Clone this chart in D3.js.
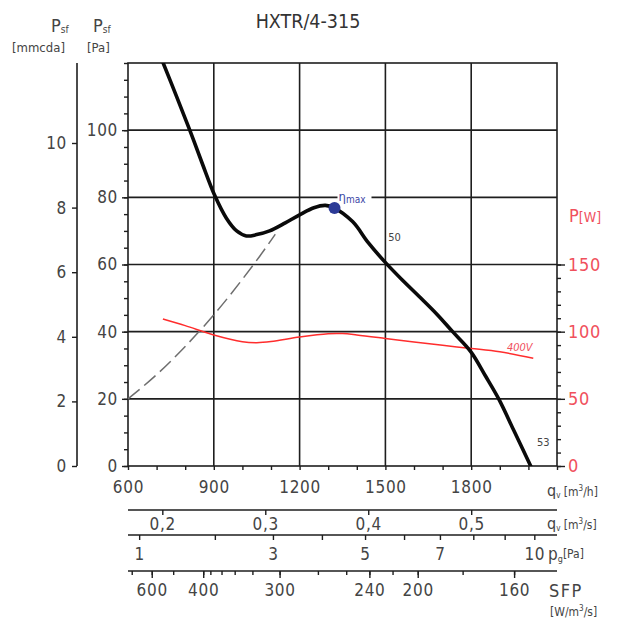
<!DOCTYPE html>
<html><head><meta charset="utf-8">
<script src="https://cdn.jsdelivr.net/npm/d3@7"></script>
<style>
body{margin:0;background:#fff;}
svg text{font-family:"DejaVu Sans Condensed","DejaVu Sans",sans-serif;font-stretch:condensed;fill:#444;}
</style></head><body><svg id="c" width="622" height="624"></svg>
<script>
// ---------- data ----------
const title = "HXTR/4-315";
const flowTicks = [600,700,800,900,1000,1100,1200,1300,1400,1500,1600,1700,1800,1900,2000,2100];
const flowLabels = [600,900,1200,1500,1800];
const flowGrid = [900,1200,1500,1800];
const paTicks = [0,5,10,15,20,25,30,35,40,45,50,55,60,65,70,75,80,85,90,95,100,105,110,115,120];
const paLabels = [0,20,40,60,80,100];
const paGrid = [20,40,60,80,100];
const mmTicks = [0,2,4,6,8,10];
const powerTicks = [0,10,20,30,40,50,60,70,80,90,100,110,120,130,140,150];
const powerLabels = [0,50,100,150];
const m3sTicks = [0.2,0.3,0.4,0.5];
const m3sLabels = ["0,2","0,3","0,4","0,5"];
const pgTicks = [1,2,3,4,5,6,7,8,9,10];
const pgLabels = [1,3,5,7,10];
const pgFlowAt1Pa = 639;          // m3/h at which dynamic pressure = 1 Pa
const sfpTicks = [700,600,500,400,380,360,340,320,300,280,260,240,220,200,180,160];
const sfpTickFlow = [613,683,758,863,888,927,973,1035,1130,1264,1363,1444,1525,1613,1770,1950];
const sfpLabels = [600,400,300,240,200,160];

// fan pressure curve (m3/h, Pa)
const pressureFlow  = [723,770,816,860,903,944,980,1014,1050,1095,1150,1200,1250,1290,1322,1386,1440,1502,1560,1619,1680,1735,1799,1850,1898,1950,2008];
const pressureValue = [120,110,100,90,80.6,73.8,70.0,68.5,68.9,70.0,72.4,74.8,76.9,77.6,76.8,72.7,66.5,60.4,55.3,50.4,45.2,40.0,34.0,26.8,19.7,10.4,0];
// system curve (dashed)
const systemFlow  = [600,700,800,900,1000,1060,1115];
const systemValue = [20,27.2,35.6,45,55.6,62.4,69];
// power curve 400V (m3/h, W)
const powerFlow  = [722,800,900,1000,1050,1100,1200,1300,1350,1400,1500,1600,1700,1800,1900,2017];
const powerValue = [109.4,104.5,97.5,92.5,91.8,92.6,96,98.5,98.6,97.6,95,92.3,89.8,87.5,85,80.2];
const etaFlow = 1322, etaPa = 76.8;
const label50 = {flow:1510, pa:67, text:"50"};
const label53 = {flow:2030, pa:6, text:"53"};

// ---------- layout ----------
const L = 128, R = 557, T = 63, B = 466;
const svg = d3.select("#c");
const x = d3.scaleLinear([600,2100],[L,R]);
const yPa = d3.scaleLinear([0,120],[B,T]);
const yMm = d3.scaleLinear([0,10],[B,143]);
const yW = d3.scaleLinear([0,300],[B,T]);
const xM3s = d3.scaleLinear([600/3600,2100/3600],[L,R]);
const pgMin = Math.pow(600/pgFlowAt1Pa,2), pgMax = Math.pow(2100/pgFlowAt1Pa,2);
const xPg = d3.scalePow().exponent(0.5).domain([pgMin,pgMax]).range([L,R]);
const xSfp = d3.scaleLinear().domain(sfpTicks).range(sfpTickFlow.map(f=>x(f)));

const ink = "#1e1e1e", red = "#ff2d2d", redText = "#f0505c", txt = "#444";
const fs = 17;

// grid
svg.append("g").selectAll("line").data(flowGrid).join("line")
  .attr("x1",d=>x(d)).attr("x2",d=>x(d)).attr("y1",T).attr("y2",B)
  .attr("stroke",ink).attr("stroke-width",1.6);
svg.append("g").selectAll("line").data(paGrid).join("line")
  .attr("x1",L).attr("x2",R).attr("y1",d=>yPa(d)).attr("y2",d=>yPa(d))
  .attr("stroke",ink).attr("stroke-width",1.6);
svg.append("rect").attr("x",L).attr("y",T).attr("width",R-L).attr("height",B-T)
  .attr("fill","none").attr("stroke",ink).attr("stroke-width",1.6);

function styleAxis(g, color){
  g.select(".domain").remove();
  g.selectAll("line").attr("stroke",color||ink).attr("stroke-width",1.4);
  g.selectAll("text").attr("font-size",fs).style("fill",color||txt).attr("letter-spacing",0.7);
}
const fmt = d3.format("d");

// Pa axis (left of plot)
svg.append("g").attr("transform",`translate(${L},0)`)
  .call(d3.axisLeft(yPa).tickValues(paTicks).tickSize(4).tickFormat(""))
  .call(g=>styleAxis(g));
svg.append("g").attr("transform",`translate(${L},0)`)
  .call(d3.axisLeft(yPa).tickValues(paLabels).tickSize(6).tickPadding(4).tickFormat(fmt))
  .call(g=>styleAxis(g));

// mmcda axis
svg.append("line").attr("x1",77).attr("x2",77).attr("y1",T).attr("y2",B).attr("stroke",ink).attr("stroke-width",1.6);
svg.append("g").attr("transform",`translate(77,0)`)
  .call(d3.axisLeft(yMm).tickValues(mmTicks).tickSize(5).tickPadding(5).tickFormat(fmt))
  .call(g=>styleAxis(g));

// power axis (right)
svg.append("g").attr("transform",`translate(${R},0)`)
  .call(d3.axisRight(yW).tickValues(powerTicks).tickSize(4).tickFormat(""))
  .call(g=>styleAxis(g));
svg.append("g").attr("transform",`translate(${R},0)`)
  .call(d3.axisRight(yW).tickValues(powerLabels).tickSize(8).tickPadding(3).tickFormat(fmt))
  .call(g=>{styleAxis(g); g.selectAll("text").style("fill",redText).attr("font-size",18);});

// flow axis m3/h
svg.append("g").attr("transform",`translate(0,${B})`)
  .call(d3.axisBottom(x).tickValues(flowTicks).tickSize(4).tickFormat(""))
  .call(g=>styleAxis(g));
svg.append("g").attr("transform",`translate(0,${B})`)
  .call(d3.axisBottom(x).tickValues(flowLabels).tickSize(0).tickPadding(15).tickFormat(fmt))
  .call(g=>styleAxis(g));

// m3/s axis
const yA2 = 510;
svg.append("line").attr("x1",L).attr("x2",R).attr("y1",yA2).attr("y2",yA2).attr("stroke",ink).attr("stroke-width",1.6);
svg.append("g").attr("transform",`translate(0,${yA2})`)
  .call(d3.axisBottom(xM3s).tickValues(m3sTicks).tickSize(5).tickPadding(3).tickFormat((d,i)=>m3sLabels[i]))
  .call(g=>styleAxis(g));

// pg axis
const yA3 = 535;
svg.append("line").attr("x1",L).attr("x2",R).attr("y1",yA3).attr("y2",yA3).attr("stroke",ink).attr("stroke-width",1.6);
svg.append("g").attr("transform",`translate(0,${yA3})`)
  .call(d3.axisBottom(xPg).tickValues(pgTicks).tickSize(5).tickFormat(""))
  .call(g=>styleAxis(g));
svg.append("g").attr("transform",`translate(0,${yA3})`)
  .call(d3.axisBottom(xPg).tickValues(pgLabels).tickSize(0).tickPadding(13).tickFormat(fmt))
  .call(g=>styleAxis(g));

// SFP axis
const yA4 = 571;
svg.append("line").attr("x1",L).attr("x2",R).attr("y1",yA4).attr("y2",yA4).attr("stroke",ink).attr("stroke-width",1.6);
svg.append("g").attr("transform",`translate(0,${yA4})`)
  .call(d3.axisBottom(xSfp).tickValues(sfpTicks).tickSize(4).tickFormat(""))
  .call(g=>styleAxis(g));
svg.append("g").attr("transform",`translate(0,${yA4})`)
  .call(d3.axisBottom(xSfp).tickValues(sfpLabels).tickSize(7).tickPadding(6).tickFormat(fmt))
  .call(g=>styleAxis(g));

// curves
svg.append("defs").append("clipPath").attr("id","clip").append("rect")
  .attr("x",L).attr("y",T).attr("width",R-L).attr("height",B-T);
const linePa = d3.line().x(d=>x(d[0])).y(d=>yPa(d[1])).curve(d3.curveMonotoneX);
const linePress = d3.line().x(d=>x(d[0])).y(d=>yPa(d[1])).curve(d3.curveCatmullRom.alpha(0.5));
const lineW = d3.line().x(d=>x(d[0])).y(d=>yW(d[1])).curve(d3.curveCatmullRom.alpha(0.5));

svg.append("path").datum(d3.zip(systemFlow,systemValue)).attr("d",linePa)
  .attr("fill","none").attr("stroke","#6e6e6e").attr("stroke-width",1.5).attr("stroke-dasharray","15,6");
svg.append("path").datum(d3.zip(powerFlow,powerValue)).attr("d",lineW)
  .attr("fill","none").attr("stroke",red).attr("stroke-width",1.5);
svg.append("path").datum(d3.zip(pressureFlow,pressureValue)).attr("d",linePress)
  .attr("clip-path","url(#clip)")
  .attr("fill","none").attr("stroke","#0a0a0a").attr("stroke-width",3.6).attr("stroke-linecap","round");

// eta max
svg.append("rect").attr("x",x(etaFlow)+3).attr("y",yPa(etaPa)-17).attr("width",34).attr("height",12).attr("fill","#fff");
const et = svg.append("text").attr("x",x(etaFlow)+4).attr("y",yPa(etaPa)-7).style("fill","#3b47a6");
et.append("tspan").attr("font-size",13).text("η");
et.append("tspan").attr("font-size",10).attr("dy",2).text("max");
svg.append("circle").attr("cx",x(etaFlow)).attr("cy",yPa(etaPa)).attr("r",6).attr("fill","#2c3a96");

svg.append("text").attr("x",x(label50.flow)).attr("y",yPa(label50.pa)).attr("font-size",11).text(label50.text);
svg.append("text").attr("x",x(label53.flow)).attr("y",yPa(label53.pa)).attr("font-size",11).text(label53.text);
svg.append("text").attr("x",x(1925)).attr("y",yW(85.5)).attr("font-size",11).attr("font-style","italic").style("fill",redText).text("400V");

// titles / units
svg.append("text").attr("x",308).attr("y",28).attr("text-anchor","middle").attr("font-size",19.5).style("fill","#333").text(title);

function psf(xp){
  const t = svg.append("text").attr("x",xp).attr("y",32);
  t.append("tspan").attr("font-size",18).text("P");
  t.append("tspan").attr("font-size",10).attr("dy",1).text("sf");
}
psf(51); psf(93);
svg.append("text").attr("x",12).attr("y",52).attr("font-size",13).text("[mmcda]");
svg.append("text").attr("x",87).attr("y",52).attr("font-size",13).text("[Pa]");

const pw = svg.append("text").attr("x",569).attr("y",222).style("fill",redText);
pw.append("tspan").attr("font-size",18).text("P");
pw.append("tspan").attr("font-size",14).text("[W]");

function qLabel(yb, unit){
  const t = svg.append("text").attr("x",547).attr("y",yb);
  t.append("tspan").attr("font-size",16).text("q");
  t.append("tspan").attr("font-size",8).attr("dy",2).text("v");
  t.append("tspan").attr("font-size",12).attr("dy",-2).text(" [m");
  t.append("tspan").attr("font-size",8).attr("dy",-5).text("3");
  t.append("tspan").attr("font-size",12).attr("dy",5).text(unit);
}
qLabel(496,"/h]");
qLabel(529,"/s]");
const pg = svg.append("text").attr("x",548).attr("y",560);
pg.append("tspan").attr("font-size",17).text("p");
pg.append("tspan").attr("font-size",9).attr("dy",2).text("g");
pg.append("tspan").attr("font-size",12).attr("dy",-4).text("[Pa]");
svg.append("text").attr("x",549).attr("y",597).attr("font-size",18).attr("letter-spacing",1.5).text("SFP");
const sf = svg.append("text").attr("x",550).attr("y",616);
sf.append("tspan").attr("font-size",12).text("[W/m");
sf.append("tspan").attr("font-size",8).attr("dy",-5).text("3");
sf.append("tspan").attr("font-size",12).attr("dy",5).text("/s]");
</script></body></html>
